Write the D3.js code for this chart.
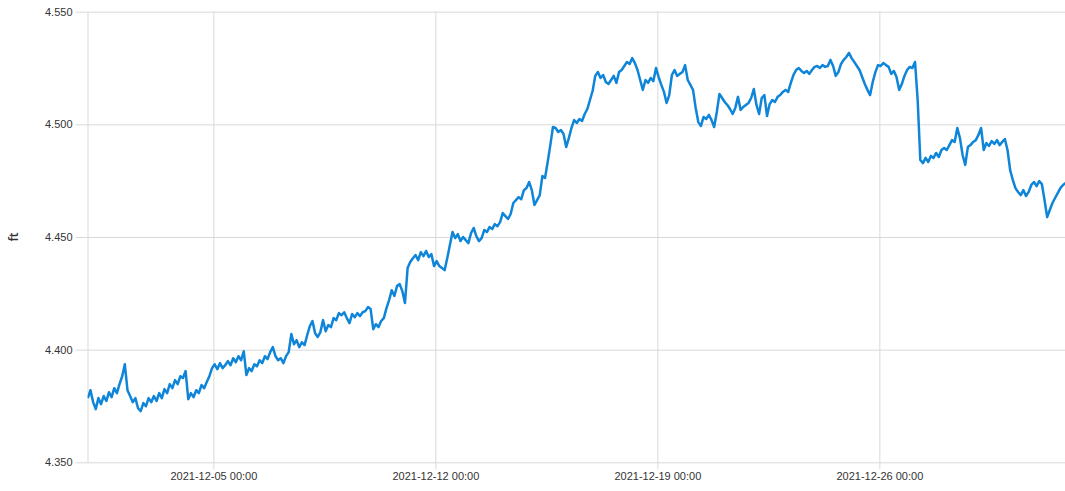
<!DOCTYPE html>
<html>
<head>
<meta charset="utf-8">
<script src="https://cdn.jsdelivr.net/npm/d3@7"></script>
<style>
  body { margin: 0; background: #fff; }
  svg { display: block; font-family: "Open Sans", sans-serif; }
  .axis text { fill: #333; font-size: 11px; }
  .axis line, .axis path { stroke: #d9d9d9; }
  .grid line { stroke: #d9d9d9; }
  .grid path { display: none; }
</style>
</head>
<body>
<svg id="chart" width="1065" height="491"></svg>
<script>
// water level readings, one every 2 hours starting 2021-12-01 01:00
const startTime = "2021-12-01T01:00";
const stepHours = 2;
const levels = [
  // Dec 1
  4.3785, 4.3820, 4.3767, 4.3736, 4.3785, 4.3758, 4.3794, 4.3772, 4.3811, 4.3789, 4.3829, 4.3807,
  4.3847, 4.3882, 4.3935, 4.3820, 4.3794, 4.3767, 4.3785, 4.3740, 4.3727, 4.3763, 4.3749, 4.3785,
  4.3767, 4.3794, 4.3772, 4.3807, 4.3785, 4.3825, 4.3807, 4.3847, 4.3829, 4.3865, 4.3847, 4.3882,
  4.3874, 4.3905, 4.3780, 4.3807, 4.3789, 4.3820, 4.3807, 4.3843, 4.3829, 4.3856, 4.3882, 4.3918,
  // Dec 5
  4.3935, 4.3913, 4.3940, 4.3918, 4.3931, 4.3949, 4.3931, 4.3962, 4.3944, 4.3971, 4.3953, 4.3993,
  4.3887, 4.3918, 4.3905, 4.3935, 4.3926, 4.3953, 4.3940, 4.3971, 4.3958, 4.3989, 4.4011, 4.3971,
  4.3953, 4.3962, 4.3940, 4.3971, 4.3989, 4.4069, 4.4024, 4.4042, 4.4011, 4.4033, 4.4020, 4.4064,
  4.4104, 4.4127, 4.4073, 4.4056, 4.4078, 4.4131, 4.4082, 4.4109, 4.4100, 4.4140, 4.4131, 4.4162,
  4.4153, 4.4166, 4.4140, 4.4118, 4.4158, 4.4144, 4.4162, 4.4149, 4.4166, 4.4171, 4.4189, 4.4180,
  4.4091, 4.4113, 4.4100, 4.4127, 4.4140, 4.4184, 4.4220, 4.4264, 4.4238, 4.4282, 4.4291, 4.4260,
  4.4207, 4.4362, 4.4389, 4.4406, 4.4420, 4.4397, 4.4433, 4.4415, 4.4438, 4.4411, 4.4424, 4.4371,
  // Dec 12
  4.4393, 4.4371, 4.4362, 4.4353, 4.4406, 4.4464, 4.4522, 4.4495, 4.4513, 4.4482, 4.4500, 4.4486,
  4.4473, 4.4517, 4.4540, 4.4504, 4.4482, 4.4495, 4.4531, 4.4522, 4.4544, 4.4535, 4.4557, 4.4548,
  4.4566, 4.4606, 4.4593, 4.4580, 4.4602, 4.4651, 4.4664, 4.4677, 4.4668, 4.4708, 4.4717, 4.4744,
  4.4708, 4.4642, 4.4664, 4.4686, 4.4771, 4.4762, 4.4833, 4.4908, 4.4988, 4.4984, 4.4966, 4.4975,
  4.4957, 4.4899, 4.4939, 4.4984, 4.5019, 4.5006, 4.5024, 4.5015, 4.5046, 4.5068, 4.5108, 4.5148,
  4.5215, 4.5232, 4.5206, 4.5219, 4.5188, 4.5179, 4.5197, 4.5215, 4.5184, 4.5232, 4.5241, 4.5259,
  4.5277, 4.5268, 4.5294, 4.5272, 4.5241, 4.5197, 4.5153, 4.5197, 4.5184, 4.5206, 4.5192, 4.5250,
  // Dec 19
  4.5210, 4.5175, 4.5144, 4.5095, 4.5130, 4.5219, 4.5241, 4.5215, 4.5224, 4.5232, 4.5263, 4.5197,
  4.5175, 4.5153, 4.5073, 4.5010, 4.4993, 4.5033, 4.5024, 4.5042, 4.5019, 4.4988, 4.5055, 4.5135,
  4.5117, 4.5099, 4.5086, 4.5068, 4.5046, 4.5073, 4.5122, 4.5064, 4.5077, 4.5086, 4.5095, 4.5117,
  4.5157, 4.5086, 4.5046, 4.5117, 4.5130, 4.5037, 4.5090, 4.5108, 4.5099, 4.5122, 4.5130, 4.5144,
  4.5153, 4.5144, 4.5184, 4.5219, 4.5241, 4.5250, 4.5237, 4.5228, 4.5237, 4.5224, 4.5241, 4.5255,
  4.5259, 4.5250, 4.5263, 4.5255, 4.5259, 4.5286, 4.5259, 4.5215, 4.5232, 4.5268, 4.5286, 4.5299,
  4.5317, 4.5294, 4.5277, 4.5259, 4.5241, 4.5210, 4.5179, 4.5153, 4.5130, 4.5188, 4.5232, 4.5263,
  // Dec 26
  4.5259, 4.5272, 4.5263, 4.5255, 4.5224, 4.5237, 4.5210, 4.5153, 4.5179, 4.5215, 4.5241, 4.5255,
  4.5250, 4.5277, 4.5108, 4.4842, 4.4828, 4.4851, 4.4833, 4.4860, 4.4851, 4.4873, 4.4855, 4.4886,
  4.4895, 4.4886, 4.4908, 4.4930, 4.4922, 4.4984, 4.4939, 4.4864, 4.4820, 4.4899, 4.4908, 4.4922,
  4.4930, 4.4953, 4.4984, 4.4886, 4.4917, 4.4904, 4.4926, 4.4913, 4.4930, 4.4908, 4.4922, 4.4935,
  4.4886, 4.4797, 4.4753, 4.4717, 4.4700, 4.4686, 4.4708, 4.4682, 4.4700, 4.4731, 4.4744, 4.4726,
  4.4748, 4.4735, 4.4664, 4.4588, 4.4620, 4.4651, 4.4673, 4.4695, 4.4717, 4.4731, 4.4740
];
const xDomain = ["2021-12-01T00:45", "2021-12-31T20:30"];
const yTicks = [4.35, 4.40, 4.45, 4.50, 4.55];
const yLabel = "ft";

const svg = d3.select("#chart");
const margin = { top: 11.7, right: 0, bottom: 28.7, left: 87.5 };
const width = +svg.attr("width") - margin.left - margin.right;
const height = +svg.attr("height") - margin.top - margin.bottom;

const t0 = new Date(startTime);
const data = levels.map((v, i) => ({ t: d3.timeHour.offset(t0, i * stepHours), v }));

const x = d3.scaleTime()
    .domain(xDomain.map(d => new Date(d)))
    .range([0, width]);
const y = d3.scaleLinear()
    .domain([4.35, 4.55])
    .range([height, 0]);

const g = svg.append("g").attr("transform", `translate(${margin.left},${margin.top})`);

// grid lines
g.append("g").attr("class", "grid")
    .call(d3.axisLeft(y).tickValues(yTicks).tickSize(-width).tickFormat(""));
g.append("g").attr("class", "grid")
    .call(d3.axisBottom(x).ticks(d3.timeWeek.every(1)).tickSize(height).tickFormat(""));

// axes
g.append("g").attr("class", "axis")
    .call(d3.axisLeft(y).tickValues(yTicks).tickSize(12).tickSizeOuter(0).tickPadding(3)
        .tickFormat(d3.format(".3f")));
const xAxis = g.append("g").attr("class", "axis")
    .attr("transform", `translate(0,${height})`)
    .call(d3.axisBottom(x).ticks(d3.timeWeek.every(1)).tickSize(7).tickSizeOuter(0).tickPadding(3)
        .tickFormat(d3.timeFormat("%Y-%m-%d %H:%M")));
xAxis.select(".domain").remove();

svg.append("text")
    .attr("transform", `translate(18,${margin.top + height / 2}) rotate(-90)`)
    .attr("text-anchor", "middle")
    .attr("fill", "#333")
    .style("font-size", "12px")
    .style("font-weight", "600")
    .text(yLabel);

// line
g.append("clipPath").attr("id", "plot-clip")
  .append("rect").attr("width", width).attr("height", height);

const line = d3.line()
    .x(d => x(d.t))
    .y(d => y(d.v));

g.append("path")
    .datum(data)
    .attr("clip-path", "url(#plot-clip)")
    .attr("fill", "none")
    .attr("stroke", "#0e85d8")
    .attr("stroke-width", 2.5)
    .attr("stroke-linejoin", "round")
    .attr("d", line);
</script>
</body>
</html>
